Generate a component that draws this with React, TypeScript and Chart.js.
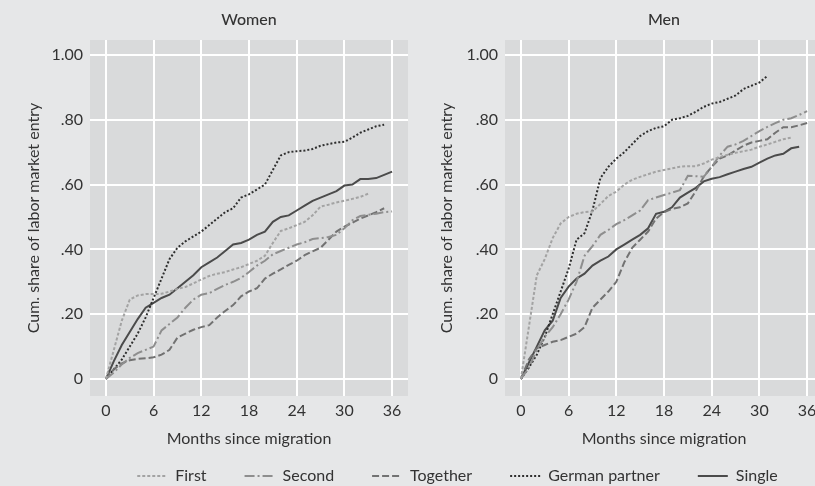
import React, { useEffect, useRef } from "react";
import { Chart, registerables } from "chart.js";
Chart.register(...registerables);

// ---------- data ----------
const months = [0, 1, 2, 3, 4, 5, 6, 7, 8, 9, 10, 11, 12, 13, 14, 15, 16, 17, 18, 19, 20, 21, 22, 23, 24, 25, 26, 27, 28, 29, 30, 31, 32, 33, 34, 35, 36];
const xTicks = [0, 6, 12, 18, 24, 30, 36];
const yTicks = [0, 0.2, 0.4, 0.6, 0.8, 1.0];
const yTickLabels = ["0", ".20", ".40", ".60", ".80", "1.00"];
const seriesNames = ["First", "Second", "Together", "German partner", "Single"];

// Women
const womenFirst = [0, 0.09, 0.18, 0.245, 0.258, 0.262, 0.262, 0.263, 0.27, 0.278, 0.284, 0.295, 0.307, 0.318, 0.325, 0.33, 0.338, 0.345, 0.355, 0.365, 0.38, 0.42, 0.457, 0.465, 0.475, 0.485, 0.505, 0.532, 0.538, 0.545, 0.55, 0.556, 0.562, 0.572];
const womenSecond = [0, 0.02, 0.045, 0.065, 0.08, 0.09, 0.1, 0.15, 0.17, 0.19, 0.22, 0.245, 0.26, 0.265, 0.278, 0.29, 0.3, 0.312, 0.33, 0.35, 0.365, 0.385, 0.395, 0.405, 0.415, 0.422, 0.432, 0.435, 0.438, 0.445, 0.465, 0.49, 0.503, 0.507, 0.51, 0.515, 0.517];
const womenTogether = [0, 0.03, 0.048, 0.058, 0.062, 0.064, 0.067, 0.075, 0.09, 0.128, 0.14, 0.152, 0.16, 0.166, 0.19, 0.21, 0.228, 0.255, 0.27, 0.28, 0.31, 0.325, 0.338, 0.352, 0.365, 0.382, 0.394, 0.405, 0.43, 0.455, 0.47, 0.482, 0.495, 0.505, 0.515, 0.527];
const womenGerman = [0, 0.03, 0.06, 0.1, 0.14, 0.19, 0.25, 0.31, 0.37, 0.405, 0.425, 0.44, 0.455, 0.475, 0.495, 0.515, 0.527, 0.56, 0.57, 0.585, 0.6, 0.645, 0.69, 0.7, 0.703, 0.705, 0.71, 0.72, 0.725, 0.73, 0.732, 0.745, 0.76, 0.77, 0.78, 0.785];
const womenSingle = [0, 0.055, 0.105, 0.145, 0.185, 0.22, 0.235, 0.25, 0.26, 0.28, 0.3, 0.32, 0.345, 0.36, 0.375, 0.395, 0.415, 0.42, 0.43, 0.445, 0.455, 0.485, 0.5, 0.505, 0.52, 0.535, 0.55, 0.56, 0.57, 0.58, 0.597, 0.6, 0.617, 0.617, 0.62, 0.63, 0.64];

// Men
const menFirst = [0, 0.16, 0.32, 0.37, 0.435, 0.48, 0.5, 0.51, 0.515, 0.517, 0.54, 0.565, 0.578, 0.6, 0.615, 0.624, 0.632, 0.64, 0.645, 0.65, 0.655, 0.657, 0.657, 0.665, 0.677, 0.685, 0.692, 0.698, 0.703, 0.708, 0.717, 0.724, 0.732, 0.74, 0.745];
const menSecond = [0, 0.035, 0.09, 0.13, 0.16, 0.2, 0.245, 0.3, 0.38, 0.41, 0.445, 0.46, 0.478, 0.49, 0.505, 0.52, 0.552, 0.56, 0.568, 0.575, 0.583, 0.627, 0.626, 0.624, 0.655, 0.69, 0.717, 0.724, 0.735, 0.75, 0.765, 0.778, 0.79, 0.8, 0.805, 0.815, 0.827];
const menTogether = [0, 0.06, 0.095, 0.105, 0.115, 0.12, 0.13, 0.14, 0.16, 0.22, 0.245, 0.27, 0.3, 0.36, 0.405, 0.43, 0.455, 0.495, 0.515, 0.525, 0.53, 0.542, 0.58, 0.625, 0.655, 0.68, 0.69, 0.705, 0.72, 0.73, 0.735, 0.74, 0.76, 0.777, 0.777, 0.783, 0.79];
const menGerman = [0, 0.035, 0.075, 0.13, 0.2, 0.27, 0.34, 0.43, 0.45, 0.52, 0.62, 0.655, 0.68, 0.7, 0.725, 0.75, 0.765, 0.775, 0.78, 0.8, 0.805, 0.812, 0.825, 0.84, 0.85, 0.855, 0.865, 0.875, 0.895, 0.905, 0.915, 0.935];
const menSingle = [0, 0.05, 0.1, 0.15, 0.18, 0.25, 0.285, 0.31, 0.325, 0.35, 0.365, 0.378, 0.4, 0.415, 0.43, 0.445, 0.465, 0.51, 0.516, 0.53, 0.56, 0.575, 0.59, 0.61, 0.618, 0.623, 0.632, 0.64, 0.648, 0.655, 0.668, 0.68, 0.69, 0.695, 0.712, 0.717];

// ---------- styles ----------
const FONT = "Lato";
const TEXT = "#333333";
const PAGE_BG = "#e6e7e8";
const PLOT_BG = "#d9dadb";
const styles = [
  { color: "#a3a3a3", dash: [3, 2] },
  { color: "#8e8e8e", dash: [10, 3, 2, 3] },
  { color: "#727272", dash: [7, 3] },
  { color: "#2e2e2e", dash: [2, 2] },
  { color: "#4b4b4b", dash: [] as number[] },
];

function makeDatasets(series: number[][]) {
  return series.map((vals, k) => ({
    label: seriesNames[k],
    data: vals.map((v, i) => ({ x: months[i], y: v })),
    borderColor: styles[k].color,
    backgroundColor: styles[k].color,
    borderDash: styles[k].dash,
    borderWidth: 2,
    pointRadius: 0,
    tension: 0,
    fill: false,
  }));
}

const panelPlugin = {
  id: "panelBg",
  beforeDraw(chart: any, _args: any, opts: any) {
    const { ctx, chartArea: a } = chart;
    ctx.save();
    ctx.fillStyle = PLOT_BG;
    ctx.fillRect(a.left, a.top, a.right - a.left, a.bottom - a.top);
    ctx.fillStyle = TEXT;
    ctx.font = `500 16px ${FONT}`;
    ctx.textAlign = "center";
    ctx.textBaseline = "middle";
    const cx = chart.scales.x.getPixelForValue(18);
    ctx.fillText(opts.title, cx, 20);
    ctx.restore();
  },
};

function panelConfig(title: string, series: number[][], axisWidth: number, yTitleCenter: number, padRight: number): any {
  return {
    type: "line",
    data: { datasets: makeDatasets(series) },
    plugins: [panelPlugin],
    options: {
      animation: false,
      responsive: false,
      events: [],
      layout: { padding: { top: 40, right: padRight, bottom: 0, left: 0 } },
      plugins: {
        legend: { display: false },
        tooltip: { enabled: false },
        panelBg: { title },
      },
      scales: {
        x: {
          type: "linear",
          min: -2,
          max: 38,
          afterBuildTicks: (s: any) => { s.ticks = xTicks.map((v) => ({ value: v })); },
          afterFit: (s: any) => { s.height = 59; },
          border: { display: false },
          grid: { color: "#ffffff", lineWidth: 2, drawTicks: false },
          ticks: { color: TEXT, font: { family: FONT, size: 16 }, padding: 5, maxRotation: 0 },
          title: { display: true, text: "Months since migration", color: TEXT, font: { family: FONT, size: 16 }, padding: { top: 0, bottom: 7 } },
        },
        y: {
          type: "linear",
          min: -0.0525,
          max: 1.0463,
          afterBuildTicks: (s: any) => { s.ticks = yTicks.map((v) => ({ value: v })); },
          afterFit: (s: any) => { s.width = axisWidth; },
          border: { display: false },
          grid: { color: "#ffffff", lineWidth: 2, drawTicks: false },
          ticks: {
            color: TEXT,
            font: { family: FONT, size: 16 },
            padding: 7,
            callback: (_v: any, i: number) => yTickLabels[i],
          },
          title: { display: true, text: "Cum. share of labor market entry", color: TEXT, font: { family: FONT, size: 16 }, padding: { top: yTitleCenter - 9.6, bottom: 0 } },
        },
      },
    },
  };
}

function legendConfig(): any {
  return {
    type: "line",
    data: { datasets: makeDatasets([[0], [0], [0], [0], [0]]) },
    options: {
      animation: false,
      responsive: false,
      events: [],
      layout: { padding: 0 },
      plugins: {
        tooltip: { enabled: false },
        legend: {
          display: true,
          position: "top",
          labels: {
            usePointStyle: true,
            pointStyle: "line",
            pointStyleWidth: 30,
            boxHeight: 2,
            color: TEXT,
            font: { family: FONT, size: 16 },
            padding: 38,
            generateLabels: (chart: any) =>
              chart.data.datasets.map((ds: any, i: number) => ({
                text: ds.label,
                fillStyle: ds.borderColor,
                strokeStyle: ds.borderColor,
                fontColor: TEXT,
                lineWidth: 2,
                lineDash: ds.borderDash,
                lineCap: "butt",
                pointStyle: "line",
                hidden: false,
                datasetIndex: i,
              })),
          },
        },
      },
      scales: { x: { display: false, type: "linear", min: 0, max: 1 }, y: { display: false, min: 10, max: 11 } },
    },
  };
}

function ChartCanvas({ config, style, width, height }: any) {
  const ref = useRef<HTMLCanvasElement | null>(null);
  useEffect(() => {
    if (!ref.current) return;
    const c = new Chart(ref.current, config());
    return () => c.destroy();
  }, []);
  return <canvas ref={ref} width={width} height={height} style={{ position: "absolute", width, height, ...style }} />;
}

export default function App() {
  return (
    <div style={{ position: "absolute", left: 0, top: 0, width: 815, height: 486, overflow: "hidden", background: PAGE_BG }}>
      <ChartCanvas
        width={410}
        height={455}
        style={{ left: 0, top: 0 }}
        config={() => panelConfig("Women", [womenFirst, womenSecond, womenTogether, womenGerman, womenSingle], 90, 34, 2)}
      />
      <ChartCanvas
        width={413}
        height={455}
        style={{ left: 410, top: 0 }}
        config={() => panelConfig("Men", [menFirst, menSecond, menTogether, menGerman, menSingle], 95, 37, 0)}
      />
      <ChartCanvas width={1315} height={200} style={{ left: -200, top: 430 }} config={legendConfig} />
    </div>
  );
}
